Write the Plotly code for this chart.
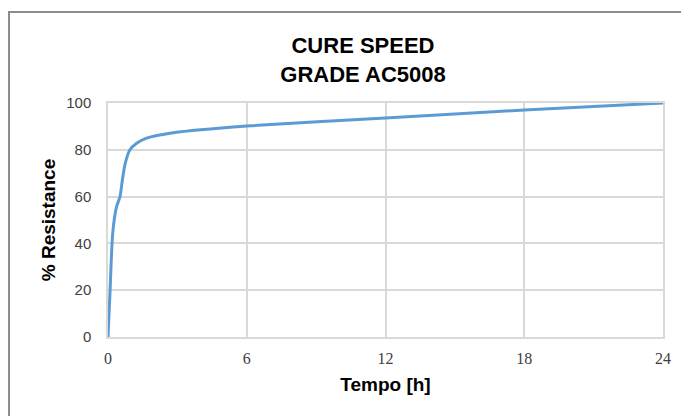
import plotly.graph_objects as go

time_h = [0, 0.09, 0.2, 0.37, 0.52, 0.62, 0.74, 0.95, 1.24, 1.67, 2.82, 6, 12, 18, 24]
resistance = [0, 20, 44, 55.7, 60, 67, 74, 80, 82.8, 85, 87.3, 90.2, 93.6, 97, 100]

x_ticks = [0, 6, 12, 18, 24]
y_ticks = [0, 20, 40, 60, 80, 100]

# page has an 8px body margin; figure occupies page (8,8)-(689,416)
W, H = 681, 408
L, R, T, B = 100, 26, 95, 79
PW, PH = W - L - R, H - T - B

fig = go.Figure()
fig.add_trace(go.Scatter(
    x=time_h, y=resistance, mode="lines",
    line=dict(color="#5B9BD5", width=3, shape="spline", smoothing=0.6),
    showlegend=False, hoverinfo="skip",
))

fig.update_layout(
    width=W, height=H,
    margin=dict(l=L, r=R, t=T, b=B),
    paper_bgcolor="white", plot_bgcolor="white",
    title=dict(
        text="<b>CURE SPEED<br>GRADE AC5008</b>",
        x=(363 - 8) / W, xanchor="center",
        y=1 - 45 / H, yanchor="middle",
        font=dict(family="Liberation Sans, Arial, sans-serif", size=22, color="black"),
    ),
    xaxis=dict(
        range=[0, 24], tickvals=x_ticks, ticktext=[str(v) for v in x_ticks],
        showgrid=True, gridcolor="#D9D9D9", gridwidth=1.5,
        showline=True, linecolor="#D9D9D9", linewidth=1.5, mirror=True,
        zeroline=False, ticks="", ticklen=0, ticklabelstandoff=6,
        tickfont=dict(family="Liberation Serif, DejaVu Serif, serif", size=16, color="#404040"),
        title=dict(text="<b>Tempo [h]</b>", standoff=12,
                   font=dict(family="Liberation Sans, Arial, sans-serif", size=19, color="black")),
    ),
    yaxis=dict(
        range=[0, 100], tickvals=y_ticks,
        showgrid=True, gridcolor="#D9D9D9", gridwidth=1.5,
        showline=True, linecolor="#D9D9D9", linewidth=1.5, mirror=True,
        zeroline=False, ticks="", ticklen=0, ticklabelstandoff=12,
        tickfont=dict(family="Liberation Sans, Arial, sans-serif", size=15, color="#404040"),
        title=dict(text="<b>% Resistance</b>", standoff=6,
                   font=dict(family="Liberation Sans, Arial, sans-serif", size=19, color="black")),
    ),
    shapes=[
        dict(type="line", xref="paper", yref="paper",
             x0=-L / PW, x1=1 + (R + 10) / PW, y0=1 + (T - 4) / PH, y1=1 + (T - 4) / PH,
             line=dict(color="#8C8C8C", width=2)),
        dict(type="line", xref="paper", yref="paper",
             x0=-L / PW + 1 / PW, x1=-L / PW + 1 / PW, y0=1 + (T - 4) / PH, y1=-(B + 10) / PH,
             line=dict(color="#8C8C8C", width=2)),
    ],
)

fig.write_html("out.html")
